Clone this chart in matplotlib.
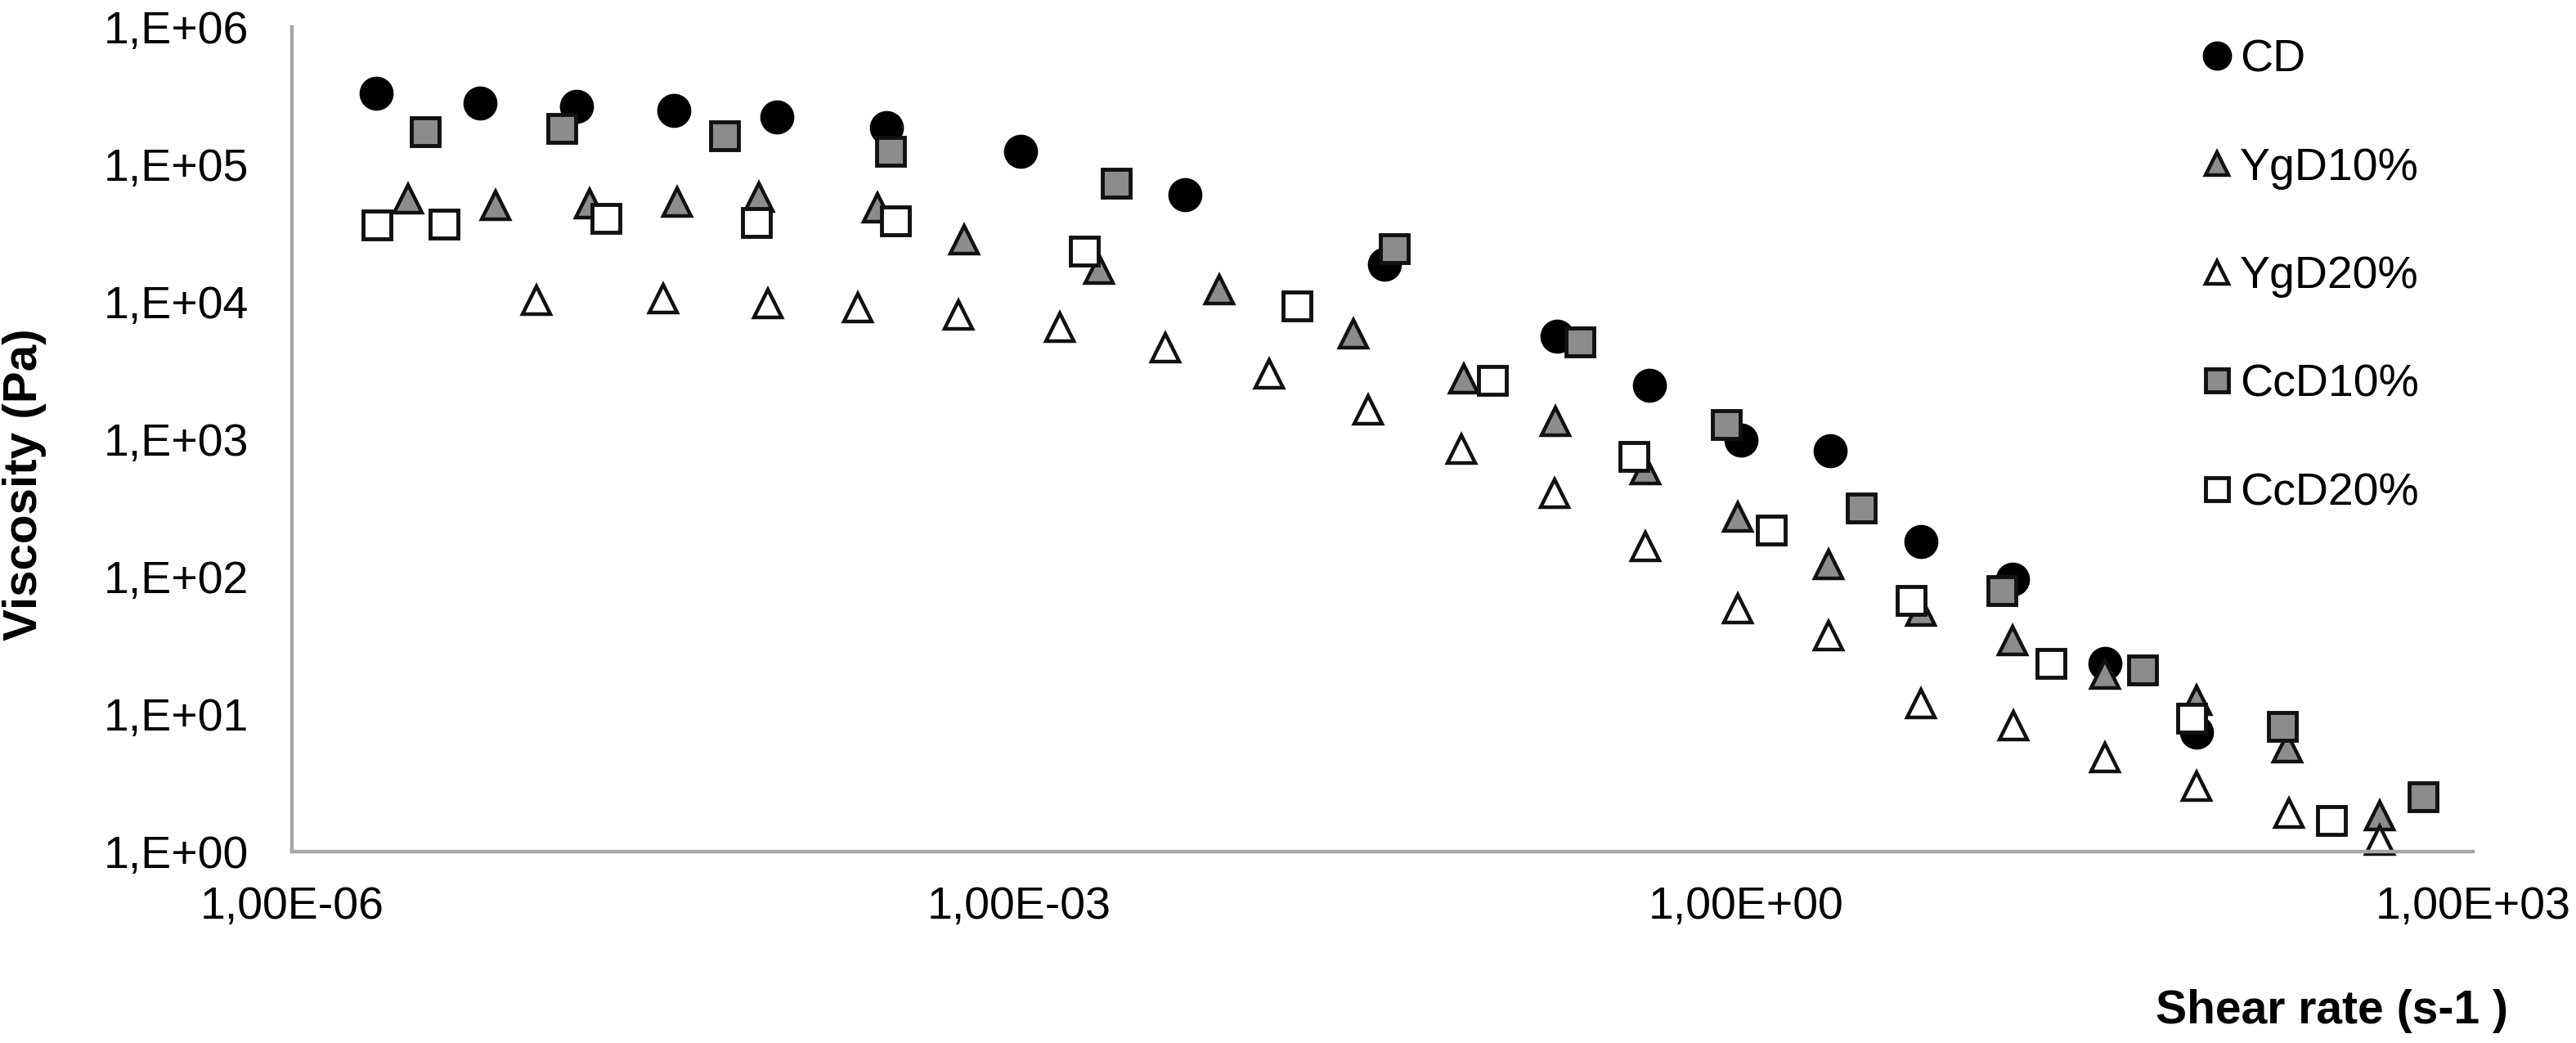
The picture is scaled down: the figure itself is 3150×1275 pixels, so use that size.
import matplotlib
matplotlib.use("Agg")
import matplotlib.pyplot as plt

plt.rcParams["font.family"] = ["Liberation Sans", "DejaVu Sans"]

# shear rate (s-1) / viscosity (Pa)
cd_x = [2.23e-6, 5.97e-6, 1.49e-5, 3.77e-5, 1.0e-4, 2.85e-4, 1.02e-3, 4.83e-3, 0.0322,
        0.166, 0.401, 0.955, 2.23, 5.27, 12.6, 30.3, 72.1]
cd_y = [3.30e5, 2.79e5, 2.65e5, 2.47e5, 2.21e5, 1.85e5, 1.24e5, 6.03e4, 1.87e4,
        5.62e3, 2.47e3, 986, 822, 181, 96.4, 23.3, 7.35]

ygd10_x = [3.01e-6, 6.92e-6, 1.69e-5, 3.89e-5, 8.45e-5, 2.60e-4, 5.96e-4, 2.14e-3, 6.70e-3,
           0.0241, 0.0684, 0.164, 0.384, 0.925, 2.20, 5.27, 12.6, 30.3, 72.1, 171, 414]
ygd10_y = [5.62e4, 5.04e4, 5.18e4, 5.32e4, 5.78e4, 4.81e4, 2.84e4, 1.73e4, 1.23e4,
           5.89e3, 2.75e3, 1.36e3, 605, 273, 123, 56.2, 34.5, 19.6, 12.6, 5.69, 1.83]

ygd20_x = [1.02e-5, 3.40e-5, 9.20e-5, 2.17e-4, 5.61e-4, 1.47e-3, 4.01e-3, 0.0108, 0.0276,
           0.0671, 0.162, 0.384, 0.925, 2.20, 5.27, 12.7, 30.3, 72.1, 174, 414]
ygd20_y = [1.03e4, 1.06e4, 9.72e3, 9.12e3, 8.07e3, 6.53e3, 4.66e3, 2.98e3, 1.63e3,
           845, 407, 167, 58.9, 37.4, 12.0, 8.26, 4.83, 2.99, 1.90, 1.22]

ccd10_x = [3.55e-6, 1.30e-5, 6.10e-5, 2.96e-4, 2.52e-3, 0.0353, 0.207, 0.830, 2.99,
           11.4, 43.4, 164, 621]
ccd10_y = [1.73e5, 1.83e5, 1.61e5, 1.25e5, 7.31e4, 2.45e4, 5.08e3, 1.28e3, 318,
           78.9, 21.0, 8.15, 2.52]

ccd20_x = [2.24e-6, 4.25e-6, 1.98e-5, 8.26e-5, 3.10e-4, 1.87e-3, 0.0141, 0.0897, 0.344,
           1.27, 4.82, 18.2, 69.0, 261]
ccd20_y = [3.64e4, 3.67e4, 4.05e4, 3.78e4, 3.89e4, 2.33e4, 9.35e3, 2.69e3, 750,
           218, 67.5, 23.3, 9.31, 1.68]

x_ticks = [1e-6, 1e-3, 1e0, 1e3]
x_tick_labels = ["1,00E-06", "1,00E-03", "1,00E+00", "1,00E+03"]
y_ticks = [1e0, 1e1, 1e2, 1e3, 1e4, 1e5, 1e6]
y_tick_labels = ["1,E+00", "1,E+01", "1,E+02", "1,E+03", "1,E+04", "1,E+05", "1,E+06"]

GRAY = "#8c8c8c"
EDGE = "#111111"

fig = plt.figure(figsize=(31.5, 12.75), dpi=100)
ax = fig.add_axes([0.1133, 0.1835, 0.8467, 0.7906])
ax.set_xscale("log")
ax.set_yscale("log")

ax.plot(cd_x, cd_y, "o", ms=28, mfc="black", mec="black", mew=2, label="CD", clip_on=False)
ax.plot(ygd10_x, ygd10_y, "^", ms=24, mfc=GRAY, mec=EDGE, mew=3.2, label="YgD10%", clip_on=False)
ax.plot(ygd20_x, ygd20_y, "^", ms=24, mfc="white", mec=EDGE, mew=3.2, label="YgD20%", clip_on=False)
ax.plot(ccd10_x, ccd10_y, "s", ms=24, mfc=GRAY, mec=EDGE, mew=3.5, label="CcD10%", clip_on=False)
ax.plot(ccd20_x, ccd20_y, "s", ms=24, mfc="white", mec=EDGE, mew=3.5, label="CcD20%", clip_on=False)

ax.set_xlim(1e-6, 1e3)
ax.set_ylim(1, 1e6)
ax.set_xticks(x_ticks)
ax.set_xticklabels(x_tick_labels)
ax.set_yticks(y_ticks)
ax.set_yticklabels(y_tick_labels)
ax.minorticks_off()
ax.tick_params(axis="both", length=0, labelsize=40)
ax.tick_params(axis="y", pad=38)
ax.tick_params(axis="x", pad=30)

for side in ["top", "right"]:
    ax.spines[side].set_visible(False)
for side in ["left", "bottom"]:
    ax.spines[side].set_color("#a6a6a6")
    ax.spines[side].set_linewidth(3.2)

fig.text(30 / 3150, 1 - 592 / 1275, "Viscosity (Pa)", rotation=90, fontsize=42,
         fontweight="bold", ha="center", va="center")
fig.text(2852 / 3150, 1 - 1236 / 1275, "Shear rate (s-1 )", fontsize=41,
         fontweight="bold", ha="center", va="center")

fig.legend(loc="upper left", bbox_to_anchor=(2697 / 3150, 1 - 47 / 1275), frameon=False,
           fontsize=40, markerscale=0.85, handlelength=0.5, handletextpad=0.25,
           labelspacing=1.45, borderpad=0, borderaxespad=0)

fig.savefig("out.png", dpi=100)
